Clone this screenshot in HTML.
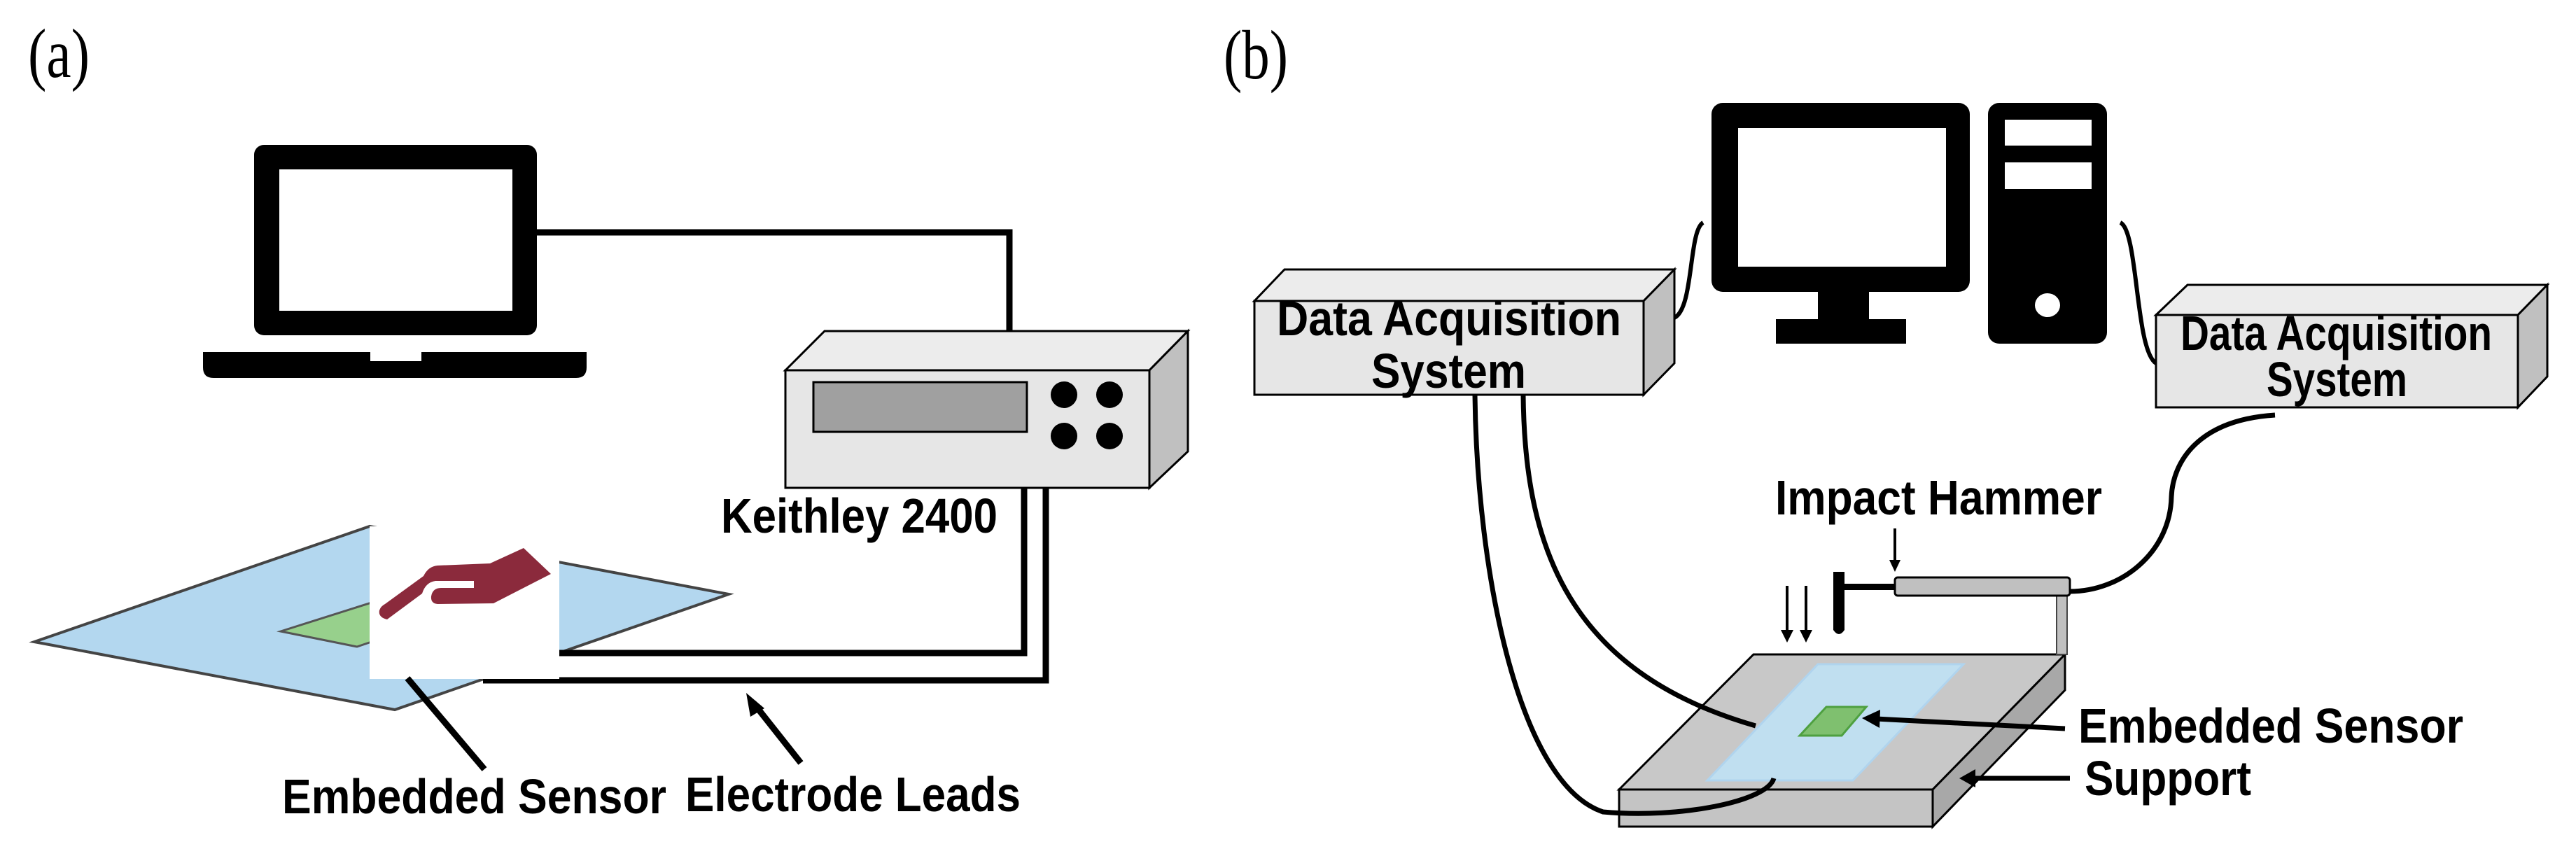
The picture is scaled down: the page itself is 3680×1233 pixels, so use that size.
<!DOCTYPE html>
<html><head><meta charset="utf-8"><style>
html,body{margin:0;padding:0;background:#fff;}
svg{display:block;}
.t{font-family:"Liberation Sans",sans-serif;font-weight:bold;font-size:70px;fill:#000;}
.s{font-family:"Liberation Serif",serif;font-size:100px;fill:#000;}
</style></head><body>
<svg width="3680" height="1233" viewBox="0 0 3680 1233" xmlns="http://www.w3.org/2000/svg">
<!-- (a) -->
<text class="s" x="40" y="110" textLength="88" lengthAdjust="spacingAndGlyphs">(a)</text>
<rect x="363" y="207" width="404" height="272" rx="14" fill="#000"/>
<rect x="399" y="242" width="333" height="202" fill="#fff"/>
<path d="M290,503 H838 V525 Q838,540 823,540 H305 Q290,540 290,525 Z" fill="#000"/>
<rect x="529" y="503" width="73" height="13" fill="#fff"/>
<polyline points="767,332 1442,332 1442,475" fill="none" stroke="#000" stroke-width="9"/>
<polygon points="1122,529 1178,473 1697,473 1642,529" fill="#ececec" stroke="#000" stroke-width="3"/>
<polygon points="1642,529 1697,473 1697,645 1642,697" fill="#c0c0c0" stroke="#000" stroke-width="3"/>
<rect x="1122" y="529" width="520" height="168" fill="#e6e6e6" stroke="#000" stroke-width="3"/>
<rect x="1162" y="546" width="305" height="71" fill="#a0a0a0" stroke="#000" stroke-width="3"/>
<ellipse cx="1520" cy="564" rx="19" ry="19" fill="#000"/>
<ellipse cx="1585" cy="564" rx="19" ry="19" fill="#000"/>
<ellipse cx="1520" cy="623" rx="19" ry="19" fill="#000"/>
<ellipse cx="1585" cy="623" rx="19" ry="19" fill="#000"/>
<text class="t" x="1030" y="761" textLength="395" lengthAdjust="spacingAndGlyphs">Keithley 2400</text>
<polygon points="49,917 528,752 1041,849 564,1014" fill="#b3d7ef" stroke="#444" stroke-width="4"/>
<polygon points="401,902 540,858 640,880 510,924" fill="#97d08c" stroke="#555" stroke-width="3"/>
<polyline points="1463,697 1463,933 790,933" fill="none" stroke="#000" stroke-width="9"/>
<polyline points="1494,697 1494,972 690,972" fill="none" stroke="#000" stroke-width="9"/>
<rect x="528" y="752" width="271" height="218" fill="#fff"/>
<path d="M553,885 Q540,882 542,872 Q544,866 550,863 L605,823 Q612,809 625,808 L700,805 L748,783 L787,820 L705,862 L625,863 Q615,862 616,852 Q618,840 630,840 L677,840 L677,830 L622,830 Q608,832 603,848 Z" fill="#8b2a3c"/>
<line x1="582" y1="969" x2="692" y2="1099" stroke="#000" stroke-width="9"/>
<line x1="1144" y1="1090" x2="1076" y2="1004" stroke="#000" stroke-width="9"/>
<polygon points="1066,990 1092,1012 1072,1024" fill="#000"/>
<text class="t" x="403" y="1162" textLength="549" lengthAdjust="spacingAndGlyphs">Embedded Sensor</text>
<text class="t" x="979" y="1159" textLength="479" lengthAdjust="spacingAndGlyphs">Electrode Leads</text>

<!-- (b) -->
<text class="s" x="1748" y="112" textLength="92" lengthAdjust="spacingAndGlyphs">(b)</text>
<rect x="2445" y="147" width="369" height="270" rx="16" fill="#000"/>
<rect x="2483" y="183" width="297" height="198" fill="#fff"/>
<rect x="2597" y="415" width="73" height="42" fill="#000"/>
<rect x="2537" y="456" width="186" height="35" fill="#000"/>
<rect x="2840" y="147" width="170" height="344" rx="16" fill="#000"/>
<rect x="2864" y="171" width="124" height="37" fill="#fff"/>
<rect x="2864" y="232" width="124" height="38" fill="#fff"/>
<ellipse cx="2925" cy="436" rx="18" ry="17" fill="#fff"/>
<path d="M2392,454 C2420,440 2412,330 2433,318" fill="none" stroke="#000" stroke-width="6"/>
<path d="M3029,318 C3055,330 3050,500 3080,519" fill="none" stroke="#000" stroke-width="6"/>
<polygon points="1792,430 1835,385 2392,385 2348,430" fill="#ececec" stroke="#000" stroke-width="3"/>
<polygon points="2348,430 2392,385 2392,519 2348,564" fill="#c0c0c0" stroke="#000" stroke-width="3"/>
<rect x="1792" y="430" width="556" height="134" fill="#e6e6e6" stroke="#000" stroke-width="3"/>
<text class="t" x="1824" y="479" font-size="64" textLength="492" lengthAdjust="spacingAndGlyphs">Data Acquisition</text>
<text class="t" x="1959" y="554" font-size="64" textLength="221" lengthAdjust="spacingAndGlyphs">System</text>
<polygon points="3080,450 3125,407 3639,407 3597,450" fill="#ececec" stroke="#000" stroke-width="3"/>
<polygon points="3597,450 3639,407 3639,538 3597,582" fill="#c0c0c0" stroke="#000" stroke-width="3"/>
<rect x="3080" y="450" width="517" height="132" fill="#e6e6e6" stroke="#000" stroke-width="3"/>
<text class="t" x="3115" y="500" font-size="64" textLength="445" lengthAdjust="spacingAndGlyphs">Data Acquisition</text>
<text class="t" x="3238" y="566" font-size="64" textLength="201" lengthAdjust="spacingAndGlyphs">System</text>
<path d="M3250,593 C3140,600 3104,660 3102,710 C3100,790 3030,845 2957,845" fill="none" stroke="#000" stroke-width="7"/>
<polygon points="2505,935 2950,935 2761,1128 2313,1128" fill="#c8c8c8" stroke="#000" stroke-width="3"/>
<polygon points="2761,1128 2950,935 2950,986 2761,1181" fill="#a8a8a8" stroke="#000" stroke-width="3"/>
<rect x="2313" y="1128" width="448" height="53" fill="#c4c4c4" stroke="#000" stroke-width="3"/>
<polygon points="2597,949 2805,949 2647,1115 2439,1115" fill="#c0dff0" stroke="#b0d4ee" stroke-width="3"/>
<polygon points="2609,1010 2666,1010 2631,1051 2571,1051" fill="#7fc06f" stroke="#4ea040" stroke-width="3"/>
<rect x="2938" y="851" width="15" height="84" fill="#c0c0c0" stroke="#444" stroke-width="2"/>
<rect x="2631" y="834" width="78" height="9" fill="#000"/>
<path d="M2619,817 H2635 V900 Q2627,912 2619,900 Z" fill="#000"/>
<rect x="2707" y="825" width="250" height="26" rx="4" fill="#c0c0c0" stroke="#000" stroke-width="3"/>
<line x1="2707" y1="755" x2="2707" y2="805" stroke="#000" stroke-width="4"/>
<polygon points="2699,800 2715,800 2707,817" fill="#000"/>
<text class="t" x="2536" y="735" textLength="467" lengthAdjust="spacingAndGlyphs">Impact Hammer</text>
<line x1="2553" y1="837" x2="2553" y2="905" stroke="#000" stroke-width="4"/>
<polygon points="2544,900 2562,900 2553,918" fill="#000"/>
<line x1="2580" y1="837" x2="2580" y2="905" stroke="#000" stroke-width="4"/>
<polygon points="2571,900 2589,900 2580,918" fill="#000"/>
<path d="M2107,564 C2110,820 2170,1120 2290,1160 C2400,1170 2525,1145 2534,1112" fill="none" stroke="#000" stroke-width="7"/>
<path d="M2176,564 C2178,780 2240,960 2508,1037" fill="none" stroke="#000" stroke-width="7"/>
<line x1="2950" y1="1041" x2="2680" y2="1027" stroke="#000" stroke-width="7"/>
<polygon points="2660,1026 2686,1014 2685,1040" fill="#000"/>
<text class="t" x="2969" y="1061" textLength="550" lengthAdjust="spacingAndGlyphs">Embedded Sensor</text>
<line x1="2957" y1="1112" x2="2818" y2="1112" stroke="#000" stroke-width="7"/>
<polygon points="2799,1112 2822,1099 2822,1125" fill="#000"/>
<text class="t" x="2978" y="1136" textLength="238" lengthAdjust="spacingAndGlyphs">Support</text>
</svg>
</body></html>
